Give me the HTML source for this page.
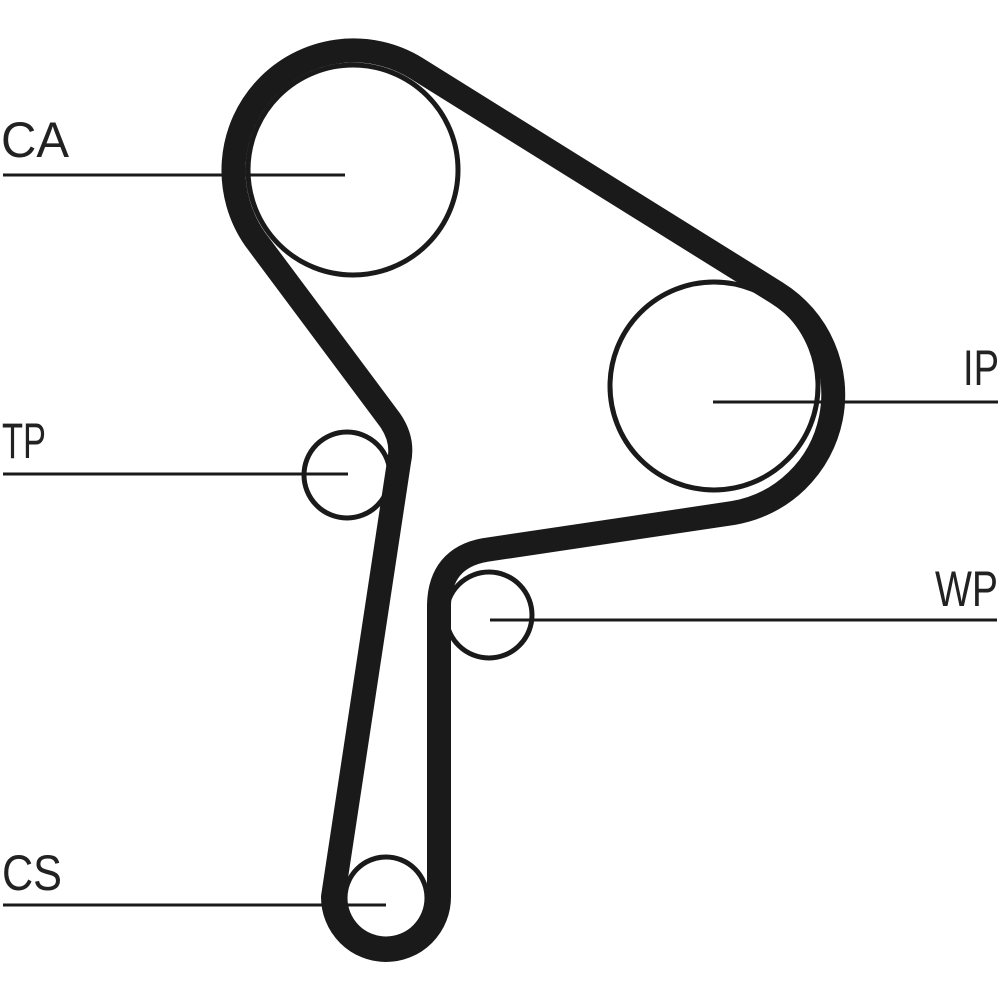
<!DOCTYPE html>
<html><head><meta charset="utf-8"><style>
html,body{margin:0;padding:0;background:#fff;}
svg{display:block;}
text{font-family:"Liberation Sans",sans-serif;font-size:50px;fill:#222;}
</style></head><body>
<svg width="1000" height="1000" viewBox="0 0 1000 1000" xmlns="http://www.w3.org/2000/svg">
<g stroke="#1a1a1a" fill="none">
<circle cx="353" cy="170" r="105" stroke-width="5"/>
<circle cx="714" cy="386" r="104" stroke-width="5"/>
<circle cx="347" cy="475" r="43" stroke-width="5"/>
<circle cx="489" cy="615" r="43" stroke-width="5"/>
<circle cx="386" cy="898" r="41" stroke-width="5"/>
<path d="M255 239 A120 120 0 0 1 416 68 L777 293 A120 120 0 0 1 733 513 L485 550 Q440 558 439 605 L439 897 A53 53 0 0 1 333 897 L399 462 Q404 440 390 420 Z" stroke-width="24" stroke-linejoin="round"/>
<g stroke-width="3">
<line x1="3" y1="175" x2="345" y2="175"/>
<line x1="3" y1="474" x2="348" y2="474"/>
<line x1="713" y1="402" x2="998" y2="402"/>
<line x1="490" y1="620" x2="997" y2="620"/>
<line x1="3" y1="905" x2="386" y2="905"/>
</g>
</g>
<text x="1" y="157" textLength="68" lengthAdjust="spacingAndGlyphs">CA</text>
<text x="2" y="458" textLength="44" lengthAdjust="spacingAndGlyphs">TP</text>
<text x="963" y="385" textLength="36" lengthAdjust="spacingAndGlyphs">IP</text>
<text x="935" y="606" textLength="63" lengthAdjust="spacingAndGlyphs">WP</text>
<text x="2" y="890" textLength="60" lengthAdjust="spacingAndGlyphs">CS</text>
</svg>
</body></html>
